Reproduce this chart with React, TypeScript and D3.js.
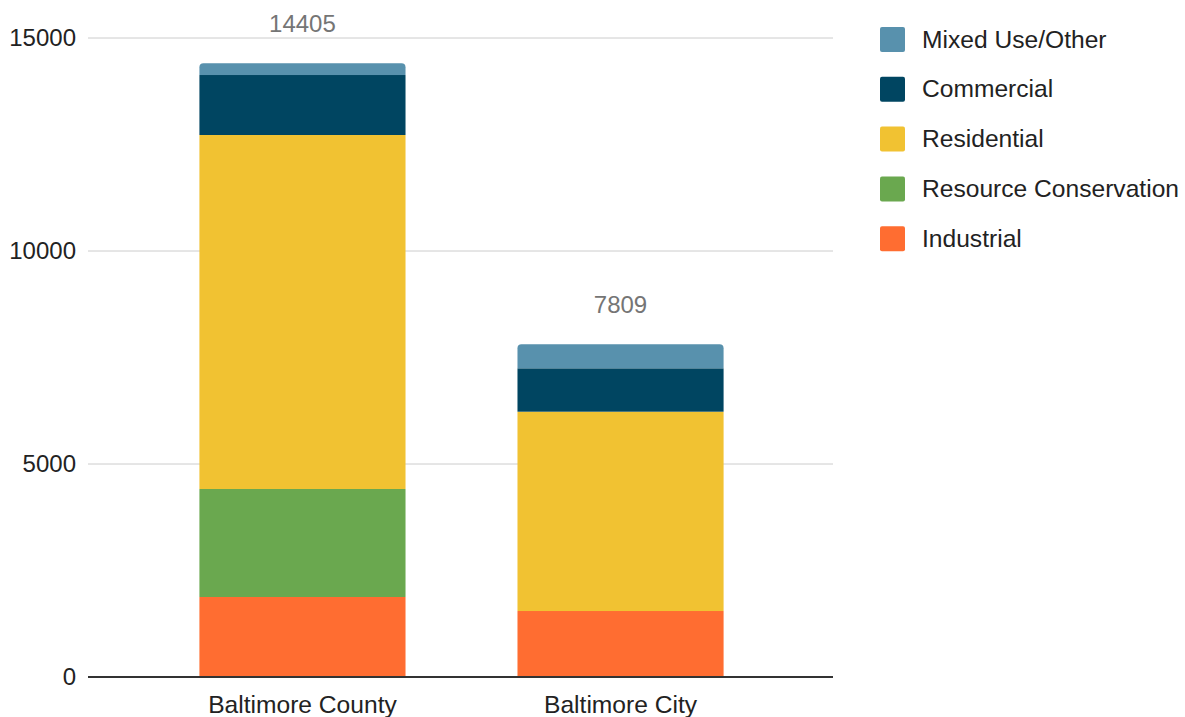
import React from "react";
import * as d3 from "d3";

const categories = ["Baltimore County", "Baltimore City"];
const seriesNames = ["Industrial", "Resource Conservation", "Residential", "Commercial", "Mixed Use/Other"];
const industrial = [1878, 1549];
const resourceConservation = [2535, 0];
const residential = [8310, 4679];
const commercial = [1408, 1018];
const mixedUse = [274, 563];
const totals = [14405, 7809];
const yTicks = [0, 5000, 10000, 15000];
const colors = ["#ff6d31", "#6aa84f", "#f1c232", "#004561", "#5891ad"];

const W = 1185, H = 717;
const FONT = "'Liberation Sans', Arial, sans-serif";
const FS = 24;
const FS_TXT = 24.6;

export default function App() {
  const x = d3.scaleBand<string>().domain(categories).range([90, 833]).paddingInner(0.352).paddingOuter(0.344);
  const y = d3.scaleLinear().domain([0, 15000]).range([677, 38]);
  const rows = categories.map((c, i) => ({
    cat: c,
    Industrial: industrial[i],
    "Resource Conservation": resourceConservation[i],
    Residential: residential[i],
    Commercial: commercial[i],
    "Mixed Use/Other": mixedUse[i],
  }));
  const stack = d3.stack<any>().keys(seriesNames)(rows);
  const r = 4;
  const bw = x.bandwidth();

  const roundedTop = (x0: number, y0: number, w: number, h: number) =>
    `M${x0},${y0 + h}V${y0 + r}Q${x0},${y0} ${x0 + r},${y0}H${x0 + w - r}Q${x0 + w},${y0} ${x0 + w},${y0 + r}V${y0 + h}Z`;

  const legendItems = [...seriesNames].reverse();

  return (
    <svg width={W} height={H} style={{ position: "absolute", left: 0, top: 0, background: "#fff" }} fontFamily={FONT}>
      {yTicks.map((t) =>
        t === 0 ? null : (
          <line key={t} x1={88} x2={833} y1={y(t)} y2={y(t)} stroke="#cccccc" strokeWidth={1} />
        )
      )}
      {yTicks.map((t) => (
        <text key={"l" + t} x={76} y={y(t)} dy="0.35em" textAnchor="end" fontSize={FS} fill="#222">
          {t}
        </text>
      ))}
      {stack.map((s, si) =>
        s.map((d, i) => {
          const v = d[1] - d[0];
          if (v <= 0) return null;
          const x0 = x(categories[i])!;
          const y0 = y(d[1]);
          const h = y(d[0]) - y(d[1]);
          if (si === seriesNames.length - 1) {
            return <path key={si + "-" + i} d={roundedTop(x0, y0, bw, h)} fill={colors[si]} />;
          }
          return <rect key={si + "-" + i} x={x0} y={y0} width={bw} height={h} fill={colors[si]} />;
        })
      )}
      <line x1={88} x2={833} y1={y(0)} y2={y(0)} stroke="#333" strokeWidth={2} />
      {categories.map((c, i) => (
        <g key={c}>
          <text x={x(c)! + bw / 2} y={704} dy="0.35em" textAnchor="middle" fontSize={FS_TXT} fill="#222">
            {c}
          </text>
          <text x={x(c)! + bw / 2} y={y(totals[i]) - 40} dy="0.35em" textAnchor="middle" fontSize={FS} fill="#757575">
            {totals[i]}
          </text>
        </g>
      ))}
      {legendItems.map((name, i) => {
        const ci = seriesNames.indexOf(name);
        const cy = 39 + i * 49.8;
        return (
          <g key={name}>
            <rect x={880} y={cy - 12} width={25} height={25} rx={2} fill={colors[ci]} />
            <text x={922} y={cy} dy="0.35em" fontSize={FS_TXT} fill="#222">
              {name}
            </text>
          </g>
        );
      })}
    </svg>
  );
}
